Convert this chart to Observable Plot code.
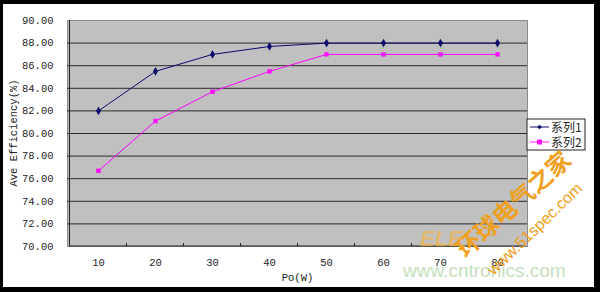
<!DOCTYPE html>
<html><head><meta charset="utf-8">
<script src="https://cdn.jsdelivr.net/npm/d3@7"></script>
<script src="https://cdn.jsdelivr.net/npm/@observablehq/plot@0.6"></script>
<style>
body{margin:0;background:#fff;}
#wrap{position:relative;width:600px;height:292px;overflow:hidden;background:#fff;}
#frame{position:absolute;left:0;top:0;width:600px;height:292px;box-sizing:border-box;border-style:solid;border-color:#000;border-width:4px 6px 5px 3px;pointer-events:none;}
.wm{position:absolute;white-space:nowrap;pointer-events:none;}
</style></head>
<body>
<div id="wrap"></div>
<script>
(function(){
const power = ["10","20","30","40","50","60","70","80"];
const series1 = [82.0, 85.5, 87.0, 87.7, 88.0, 88.0, 88.0, 88.0];
const series2 = [76.7, 81.1, 83.7, 85.5, 87.0, 87.0, 87.0, 87.0];
const seriesNames = ["系列1", "系列2"];
const yTicks = [70,72,74,76,78,80,82,84,86,88,90];
const xLabel = "Po(W)";
const yLabel = "Ave Efficiency(%)";

const rows1 = power.map((p,i)=>({p, v: series1[i]}));
const rows2 = power.map((p,i)=>({p, v: series2[i]}));
const mono = "'Liberation Mono','DejaVu Sans Mono',monospace";

const chart = Plot.plot({
  width: 600, height: 292,
  marginLeft: 67, marginRight: 73, marginTop: 20, marginBottom: 46,
  style: {fontFamily: mono, fontSize: "10px", color: "#222", background: "transparent"},
  x: {type: "point", domain: power, padding: 0.5, label: null},
  y: {domain: [70, 90], label: null},
  marks: [
    Plot.frame({fill: "#c0c0c0", stroke: "#8a8a8a"}),
    Plot.ruleY(yTicks.slice(1, -1), {stroke: "#2a2a2a", strokeWidth: 1}),
    Plot.axisY({ticks: yTicks, tickFormat: d3.format(".2f"), tickSize: 0, tickPadding: 14, fontFamily: mono, fontSize: 10.5}),
    Plot.axisX({tickSize: 0, tickPadding: 12, fontFamily: mono, fontSize: 10.5}),
    Plot.line(rows1, {x: "p", y: "v", stroke: "#0a0a6e", strokeWidth: 1}),
    Plot.line(rows2, {x: "p", y: "v", stroke: "#ff00ff", strokeWidth: 1}),
    Plot.dot(rows1, {x: "p", y: "v", symbol: "diamond", r: 2.6, fill: "#0a0a6e", stroke: "none"}),
    Plot.dot(rows2, {x: "p", y: "v", symbol: "square", r: 2.5, fill: "#ff10ff", stroke: "none"})
  ]
});

const wrap = document.getElementById("wrap");
wrap.appendChild(chart);

const svg = d3.select(chart);
const xs = chart.scale("x"), ys = chart.scale("y");
const step = (xs.apply(power[1]) - xs.apply(power[0]));
const x0 = xs.apply(power[0]) - step/2, x1 = xs.apply(power[power.length-1]) + step/2;
const yTop = ys.apply(90), yBot = ys.apply(70);
svg.append("line").attr("x1", x0).attr("x2", x0).attr("y1", yTop).attr("y2", yBot).attr("stroke", "#222");
svg.append("line").attr("x1", x0).attr("x2", x1).attr("y1", yBot).attr("y2", yBot).attr("stroke", "#222");
for (let i = 1; i < power.length; i++) {
  const x = x0 + i*step;
  svg.append("line").attr("x1", x).attr("x2", x).attr("y1", yBot).attr("y2", yBot-3).attr("stroke", "#222");
}
svg.append("text").attr("x", (x0+x1)/2).attr("y", 281).attr("text-anchor", "middle")
  .attr("font-family", mono).attr("font-size", 10.5).attr("fill", "#222").text(xLabel);
svg.append("text").attr("transform", `translate(17,${(yTop+yBot)/2}) rotate(-90)`).attr("text-anchor", "middle")
  .attr("font-family", mono).attr("font-size", 10.5).attr("fill", "#222").text(yLabel);

const lg = svg.append("g").attr("transform", "translate(527,119)");
lg.append("rect").attr("width", 58).attr("height", 31).attr("fill", "#fff").attr("stroke", "#222");
const lcol = ["#0a0a6e", "#ff10ff"];
seriesNames.forEach((n, i) => {
  const yy = 8 + i*15;
  lg.append("line").attr("x1", 3).attr("x2", 22).attr("y1", yy).attr("y2", yy).attr("stroke", lcol[i]);
  if (i === 0) lg.append("path").attr("d", d3.symbol(d3.symbolDiamond2, 14)()).attr("transform", `translate(12.5,${yy})`).attr("fill", lcol[i]);
  else lg.append("rect").attr("x", 10).attr("y", yy-2.5).attr("width", 5).attr("height", 5).attr("fill", lcol[i]);
  lg.append("text").attr("x", 24).attr("y", yy+4.5).attr("text-anchor", "start")
    .attr("font-family", "'Noto Sans CJK SC',sans-serif").attr("font-size", 12).attr("fill", "#222").text(n);
});

const wm = [
  {t: "www.cntronics.com", css: "left:403px;top:260px;font:19px 'Liberation Sans',Arial,sans-serif;color:#c4e0bc;"},
  {t: "ELE", css: "left:420px;top:226px;font:italic bold 22px 'Liberation Sans',Arial,sans-serif;color:#f3b44a;opacity:0.7;"},
  {t: "环球电气之家", css: "left:447px;top:238px;font:bold 24px 'Noto Sans CJK SC',sans-serif;color:#f0a020;transform:rotate(-42deg);transform-origin:left top;"},
  {t: "www.51spec.com", css: "left:484px;top:266px;font:16px 'Liberation Sans',Arial,sans-serif;color:#f0a020;transform:rotate(-44deg);transform-origin:left top;"}
];
wm.forEach(w => { const d = document.createElement("div"); d.className = "wm"; d.style.cssText = w.css; d.textContent = w.t; wrap.appendChild(d); });
const fr = document.createElement("div"); fr.id = "frame"; wrap.appendChild(fr);
})();
</script>
</body></html>
